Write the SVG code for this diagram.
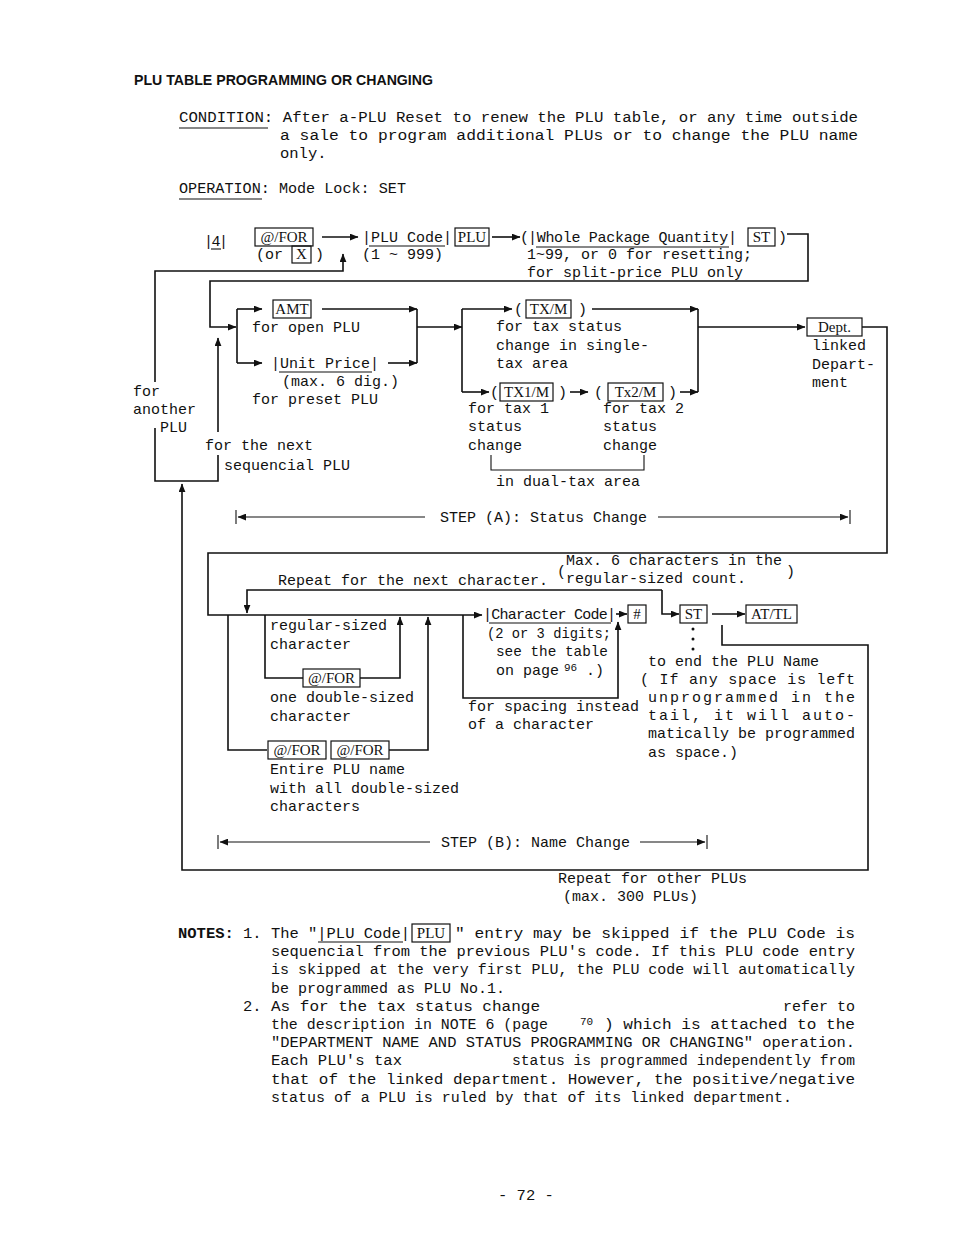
<svg xmlns="http://www.w3.org/2000/svg" width="954" height="1239" viewBox="0 0 954 1239">
<style>
.t{font-family:"Liberation Mono",monospace;font-size:15px;fill:#111}
.p{font-family:"Liberation Mono",monospace;font-size:15.5px;fill:#111}
.k{font-family:"Liberation Serif",serif;font-size:15px;fill:#111;text-anchor:middle}
.kb{fill:none;stroke:#111;stroke-width:1.2}
.ln{fill:none;stroke:#111;stroke-width:1.6}
.th{fill:none;stroke:#111;stroke-width:1.1}
.a{marker-end:url(#ah)}
.sm{font-family:"Liberation Mono",monospace;font-size:11px;fill:#111}
</style>
<defs>
<marker id="ah" viewBox="0 0 10 8" refX="9.5" refY="4" markerWidth="9" markerHeight="7" markerUnits="userSpaceOnUse" orient="auto"><path d="M0,0 L10,4 L0,8 z" fill="#111"/></marker>
</defs>
<rect width="954" height="1239" fill="#fff"/>

<g id="header">
<text x="134" y="85" font-family="Liberation Sans,Arial,sans-serif" font-weight="bold" font-size="14" textLength="299" lengthAdjust="spacingAndGlyphs" fill="#111">PLU TABLE PROGRAMMING OR CHANGING</text>
<text class="p" x="179" y="122" textLength="679" lengthAdjust="spacingAndGlyphs">CONDITION: After a-PLU Reset to renew the PLU table, or any time outside</text>
<line class="th" x1="179" y1="128" x2="268" y2="128"/>
<text class="p" x="280" y="140" textLength="578" lengthAdjust="spacingAndGlyphs">a sale to program additional PLUs or to change the PLU name</text>
<text class="p" x="280" y="158">only.</text>
<text class="p" x="179" y="193" textLength="227" lengthAdjust="spacingAndGlyphs">OPERATION: Mode Lock: SET</text>
<line class="th" x1="179" y1="199" x2="262" y2="199"/>
</g>

<g id="connectors">
<path class="ln a" d="M322,237 H358"/>
<path class="ln a" d="M492,237 H520"/>
<path class="ln a" d="M787,234 H808 V281 H210 V327 H236"/>
<path class="ln a" d="M155,382 V271 H343 V254"/>
<path class="ln" d="M155,428 V481 H218 V455"/>
<path class="ln a" d="M218,432 V338"/>
<path class="ln a" d="M722,625 V645 H868 V870 H182 V484"/>
<path class="ln" d="M237,309 V363"/>
<path class="ln a" d="M237,309 H262"/>
<path class="ln a" d="M237,363 H262"/>
<path class="ln a" d="M322,309 H417"/>
<path class="ln" d="M417,309 V363"/>
<path class="ln a" d="M388,363 H417"/>
<path class="ln a" d="M417,327 H462"/>
<path class="ln" d="M462,309 V392"/>
<path class="ln a" d="M462,309 H512"/>
<path class="ln a" d="M462,392 H489"/>
<path class="ln a" d="M570,392 H588"/>
<path class="ln a" d="M592,309 H698"/>
<path class="ln a" d="M680,392 H698"/>
<path class="ln" d="M698,309 V392"/>
<path class="ln a" d="M698,327 H805"/>
<path class="ln a" d="M862,327 H887 V553 H208 V615 H482"/>
<path class="ln a" d="M616,614 H627"/>
<path class="ln a" d="M662,590 H247 V613"/>
<path class="ln a" d="M662,590 V614 H679"/>
<path class="ln a" d="M712,614 H745"/>
<path class="ln" d="M228,615 V750 H267"/>
<path class="ln a" d="M389,750 H428 V617"/>
<path class="ln" d="M265,615 V678 H303"/>
<path class="ln a" d="M360,678 H400 V617"/>
<path class="ln a" d="M463,615 V698 H618 V622"/>
<path class="th" d="M491,455 V470 H644 V455"/>
<path class="th a" d="M425,517 H238"/>
<path class="th" d="M236,510 V524"/>
<path class="th a" d="M658,517 H848"/>
<path class="th" d="M850,510 V524"/>
<path class="th a" d="M430,842 H220"/>
<path class="th" d="M218,835 V849"/>
<path class="th a" d="M640,842 H705"/>
<path class="th" d="M707,835 V849"/>
</g>

<g id="n-start">
<text class="t" x="204" y="246" textLength="24">|4|</text>
<line class="th" x1="211" y1="249" x2="221" y2="249"/>
<rect class="kb" x="255" y="228" width="58" height="18"/>
<text class="k" x="284" y="242">@/FOR</text>
<text class="t" x="256" y="259">(or</text>
<rect class="kb" x="292" y="246" width="19" height="17"/>
<text class="k" x="301.5" y="259">X</text>
<text class="t" x="315" y="259">)</text>
</g>

<g id="n-plucode">
<text class="t" x="362" y="242">|PLU Code|</text>
<line class="th" x1="369" y1="246" x2="445" y2="246"/>
<text class="t" x="362" y="259">(1 ~ 999)</text>
<rect class="kb" x="455" y="228" width="34" height="18"/>
<text class="k" x="472" y="242">PLU</text>
</g>

<g id="n-whole">
<text class="t" x="520" y="242">(</text>
<text class="t" x="528" y="242" textLength="209">|Whole Package Quantity|</text>
<line class="th" x1="536" y1="247" x2="729" y2="247"/>
<rect class="kb" x="748" y="228" width="27" height="18"/>
<text class="k" x="761.5" y="242">ST</text>
<text class="t" x="778" y="242">)</text>
<text class="t" x="527" y="259">1~99, or 0 for resetting;</text>
<text class="t" x="527" y="277">for split-price PLU only</text>
</g>

<g id="n-another">
<text class="t" x="133" y="396">for</text>
<text class="t" x="133" y="414">another</text>
<text class="t" x="160" y="432">PLU</text>
<text class="t" x="205" y="450">for the next</text>
<text class="t" x="224" y="470">sequencial PLU</text>
</g>

<g id="n-amt">
<rect class="kb" x="273" y="300" width="38" height="18"/>
<text class="k" x="292" y="314">AMT</text>
<text class="t" x="252" y="332">for open PLU</text>
</g>

<g id="n-unitprice">
<text class="t" x="271" y="368">|Unit Price|</text>
<line class="th" x1="279" y1="372" x2="372" y2="372"/>
<text class="t" x="282" y="386">(max. 6 dig.)</text>
<text class="t" x="252" y="404">for preset PLU</text>
</g>

<g id="n-txm">
<text class="t" x="514" y="314">(</text>
<rect class="kb" x="526" y="300" width="45" height="18"/>
<text class="k" x="548.5" y="314">TX/M</text>
<text class="t" x="578" y="314">)</text>
<text class="t" x="496" y="331">for tax status</text>
<text class="t" x="496" y="350">change in single-</text>
<text class="t" x="496" y="368">tax area</text>
</g>

<g id="n-tx1m">
<text class="t" x="490" y="397">(</text>
<rect class="kb" x="500" y="383" width="53" height="18"/>
<text class="k" x="526.5" y="397">TX1/M</text>
<text class="t" x="558" y="397">)</text>
<text class="t" x="468" y="413">for tax 1</text>
<text class="t" x="468" y="431">status</text>
<text class="t" x="468" y="450">change</text>
</g>

<g id="n-tx2m">
<text class="t" x="594" y="397">(</text>
<rect class="kb" x="608" y="383" width="55" height="18"/>
<text class="k" x="635.5" y="397">Tx2/M</text>
<text class="t" x="668" y="397">)</text>
<text class="t" x="603" y="413">for tax 2</text>
<text class="t" x="603" y="431">status</text>
<text class="t" x="603" y="450">change</text>
<text class="t" x="496" y="486">in dual-tax area</text>
</g>

<g id="n-dept">
<rect class="kb" x="807" y="318" width="55" height="18"/>
<text class="k" x="834.5" y="332">Dept.</text>
<text class="t" x="812" y="350">linked</text>
<text class="t" x="812" y="369">Depart-</text>
<text class="t" x="812" y="387">ment</text>
</g>

<g id="n-stepa">
<text class="t" x="440" y="522">STEP (A): Status Change</text>
</g>

<g id="n-repeatchar">
<text class="t" x="278" y="585">Repeat for the next character.</text>
<text class="t" x="566" y="565">Max. 6 characters in the</text>
<text class="t" x="566" y="583">regular-sized count.</text>
<text class="t" x="557" y="576" font-size="13">(</text>
<text class="t" x="786" y="576" font-size="13">)</text>
</g>

<g id="n-regular">
<text class="t" x="270" y="630">regular-sized</text>
<text class="t" x="270" y="649">character</text>
<rect class="kb" x="303" y="669" width="57" height="18"/>
<text class="k" x="331.5" y="683">@/FOR</text>
<text class="t" x="270" y="702">one double-sized</text>
<text class="t" x="270" y="721">character</text>
<rect class="kb" x="268" y="741" width="58" height="18"/>
<text class="k" x="297" y="755">@/FOR</text>
<rect class="kb" x="331" y="741" width="58" height="18"/>
<text class="k" x="360" y="755">@/FOR</text>
<text class="t" x="270" y="774">Entire PLU name</text>
<text class="t" x="270" y="793">with all double-sized</text>
<text class="t" x="270" y="811">characters</text>
</g>

<g id="n-charcode">
<text class="t" x="483" y="619" textLength="133">|Character Code|</text>
<line class="th" x1="489" y1="623" x2="611" y2="623"/>
<text class="t" x="487" y="638" textLength="124" lengthAdjust="spacingAndGlyphs">(2 or 3 digits;</text>
<text class="t" x="496" y="656" textLength="112" lengthAdjust="spacingAndGlyphs">see the table</text>
<text class="t" x="496" y="675">on page</text>
<text class="sm" x="564" y="671">96</text>
<text class="t" x="586" y="675">.)</text>
<text class="t" x="468" y="711">for spacing instead</text>
<text class="t" x="468" y="729">of a character</text>
</g>

<g id="n-hash">
<rect class="kb" x="628" y="605" width="18" height="18"/>
<text class="k" x="637" y="619">#</text>
</g>

<g id="n-st">
<rect class="kb" x="680" y="605" width="27" height="18"/>
<text class="k" x="693.5" y="619">ST</text>
<circle cx="693" cy="629" r="1.5" fill="#111"/>
<circle cx="693" cy="639" r="1.5" fill="#111"/>
<circle cx="693" cy="649" r="1.5" fill="#111"/>
</g>

<g id="n-attl">
<rect class="kb" x="746" y="605" width="51" height="18"/>
<text class="k" x="771.5" y="619">AT/TL</text>
<text class="t" x="648" y="666">to end the PLU Name</text>
<text class="t" x="640" y="684" textLength="215" lengthAdjust="spacing">( If any space is left</text>
<text class="t" x="648" y="702" textLength="207" lengthAdjust="spacing">unprogrammed in the</text>
<text class="t" x="648" y="720" textLength="207" lengthAdjust="spacing">tail, it will auto-</text>
<text class="t" x="648" y="738">matically be programmed</text>
<text class="t" x="648" y="757">as space.)</text>
</g>

<g id="n-stepb">
<text class="t" x="441" y="847">STEP (B): Name Change</text>
<text class="t" x="558" y="883">Repeat for other PLUs</text>
<text class="t" x="563" y="901">(max. 300 PLUs)</text>
</g>

<g id="notes">
<text class="p" x="178" y="938" font-weight="bold">NOTES:</text>
<text class="p" x="243" y="938">1.</text>
<text class="p" x="271" y="938" textLength="139" lengthAdjust="spacingAndGlyphs">The "|PLU Code|</text>
<line class="th" x1="318" y1="942" x2="403" y2="942"/>
<rect class="kb" x="412" y="924" width="38" height="18"/>
<text class="k" x="431" y="938">PLU</text>
<text class="p" x="455" y="938" textLength="400" lengthAdjust="spacingAndGlyphs">" entry may be skipped if the PLU Code is</text>
<text class="p" x="271" y="956" textLength="584" lengthAdjust="spacingAndGlyphs">sequencial from the previous PLU's code.  If this PLU code entry</text>
<text class="p" x="271" y="974" textLength="584" lengthAdjust="spacingAndGlyphs">is skipped at the very first PLU, the PLU code will automatically</text>
<text class="p" x="271" y="993" textLength="234" lengthAdjust="spacingAndGlyphs">be programmed as PLU No.1.</text>
<text class="p" x="243" y="1011">2.</text>
<text class="p" x="271" y="1011" textLength="269" lengthAdjust="spacingAndGlyphs">As for the tax status change</text>
<text class="p" x="783" y="1011" textLength="72" lengthAdjust="spacingAndGlyphs">refer to</text>
<text class="p" x="271" y="1029" textLength="277" lengthAdjust="spacingAndGlyphs">the description in NOTE 6 (page</text>
<text class="sm" x="580" y="1025">70</text>
<text class="p" x="604" y="1029" textLength="251" lengthAdjust="spacingAndGlyphs">) which is attached to the</text>
<text class="p" x="271" y="1047" textLength="584" lengthAdjust="spacingAndGlyphs">"DEPARTMENT NAME AND STATUS PROGRAMMING OR CHANGING" operation.</text>
<text class="p" x="271" y="1065" textLength="131" lengthAdjust="spacingAndGlyphs">Each PLU's tax</text>
<text class="p" x="512" y="1065" textLength="343" lengthAdjust="spacingAndGlyphs">status is programmed independently from</text>
<text class="p" x="271" y="1084" textLength="584" lengthAdjust="spacingAndGlyphs">that of the linked department.  However, the positive/negative</text>
<text class="p" x="271" y="1102" textLength="521" lengthAdjust="spacingAndGlyphs">status of a PLU is ruled by that of its linked department.</text>
<text class="p" x="498" y="1200">- 72 -</text>
</g>
</svg>
